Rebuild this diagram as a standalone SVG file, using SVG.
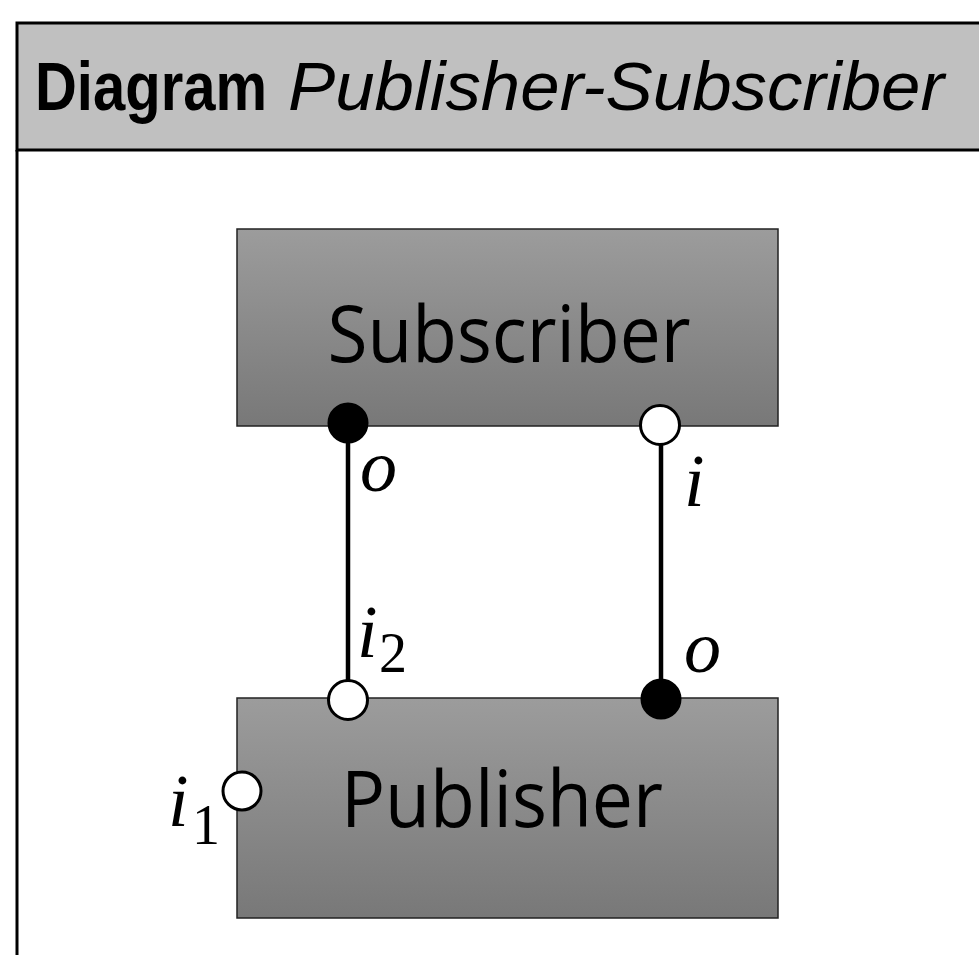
<svg xmlns="http://www.w3.org/2000/svg" width="979" height="955" viewBox="0 0 979 955">
  <defs>
    <linearGradient id="boxFill" x1="0" y1="0" x2="0" y2="1">
      <stop offset="0" stop-color="#9c9c9c"/>
      <stop offset="1" stop-color="#787878"/>
    </linearGradient>
    <style>
      .frame { fill: none; stroke: #000; stroke-width: 3; }
      .header { fill: #c0c0c0; stroke: #000; stroke-width: 3; }
      .title { font-family: "Liberation Sans", Arial, sans-serif; font-size: 68px; fill: #000; }
      .block { fill: url(#boxFill); stroke: #222; stroke-width: 1.5; }
      .blockLabel { font-family: "Open Sans", "Noto Sans", sans-serif; font-size: 78px; fill: #000; text-anchor: middle; }
      .wire { stroke: #000; stroke-width: 4.5; fill: none; }
      .portOut { fill: #000; stroke: #000; stroke-width: 2; }
      .portIn { fill: #fff; stroke: #000; stroke-width: 3; }
      .math { font-family: "Liberation Serif", "DejaVu Serif", serif; font-style: italic; font-size: 74px; fill: #000; }
      .sub { font-family: "Liberation Serif", "DejaVu Serif", serif; font-size: 56px; fill: #000; }
    </style>
  </defs>

  <rect width="979" height="955" fill="#fff"/>

  <!-- frame with title bar -->
  <g id="frame">
    <rect class="header" x="17" y="23" width="980" height="127"/>
    <line class="frame" x1="17" y1="150" x2="17" y2="960"/>
    <text class="title" x="35" y="110" font-weight="bold" textLength="232" lengthAdjust="spacingAndGlyphs">Diagram</text>
    <text class="title" x="288" y="110" font-style="italic" textLength="656" lengthAdjust="spacingAndGlyphs">Publisher-Subscriber</text>
  </g>

  <!-- connectors -->
  <g id="connectors">
    <line class="wire" x1="348" y1="440" x2="348" y2="682"/>
    <line class="wire" x1="661" y1="443" x2="661" y2="682"/>
  </g>

  <!-- Subscriber component -->
  <g id="subscriber">
    <rect class="block" x="237" y="229" width="541" height="197"/>
    <text class="blockLabel" x="509" y="362" textLength="363" lengthAdjust="spacingAndGlyphs">Subscriber</text>
    <circle class="portOut" cx="348" cy="423" r="19.5"/>
    <circle class="portIn" cx="660" cy="425" r="19.5"/>
    <text class="math" x="360" y="491">o</text>
    <text class="math" x="684" y="506">i</text>
  </g>

  <!-- Publisher component -->
  <g id="publisher">
    <rect class="block" x="237" y="698" width="541" height="220"/>
    <text class="blockLabel" x="502" y="827" textLength="322" lengthAdjust="spacingAndGlyphs">Publisher</text>
    <circle class="portIn" cx="348" cy="700" r="19.5"/>
    <circle class="portOut" cx="661" cy="699" r="19.5"/>
    <circle class="portIn" cx="242" cy="791" r="19"/>
    <text class="math" x="357" y="657">i</text>
    <text class="sub" x="379" y="672">2</text>
    <text class="math" x="684" y="672">o</text>
    <text class="math" x="168" y="826">i</text>
    <text class="sub" x="192" y="844">1</text>
  </g>
</svg>
